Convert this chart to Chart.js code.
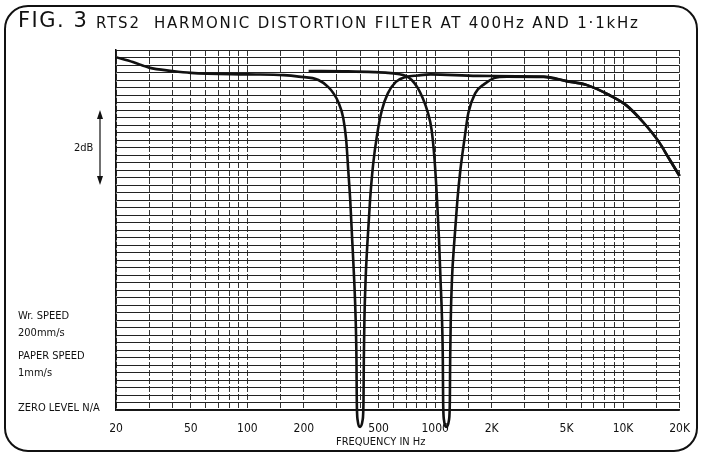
<!DOCTYPE html>
<html>
<head>
<meta charset="utf-8">
<script src="https://cdn.jsdelivr.net/npm/chart.js@4/dist/chart.umd.min.js"></script>
<style>
  body { margin: 0; background: #fff; }
  #wrap { position: relative; width: 702px; height: 455px; overflow: hidden; background: #fff; }
  #chart { position: absolute; left: 0; top: 0; }
  .frame { position: absolute; left: 4px; top: 5px; width: 690px; height: 443px; border: 2.5px solid #111; border-radius: 24px; }
  .txt { position: absolute; color: #111; white-space: nowrap; font-family: 'DejaVu Sans Condensed', 'Liberation Sans Narrow', sans-serif; }
  .fig { left: 18px; top: 8px; font-family: 'DejaVu Sans', sans-serif; font-size: 21px; letter-spacing: 1.5px; }
  .sub { left: 96px; top: 14px; font-family: 'DejaVu Sans', sans-serif; font-size: 15px; letter-spacing: 1.8px; }
  .note { font-size: 11px; left: 18px; }
</style>
</head>
<body>
<div id="wrap">
  <canvas id="chart" width="702" height="455"></canvas>
  <div class="frame"></div>
  <div class="txt fig">FIG. 3</div>
  <div class="txt sub">RTS2 &nbsp;HARMONIC DISTORTION FILTER AT 400Hz AND 1·1kHz</div>
  <div class="txt note" style="left:74px; top:141px;">2dB</div>
  <div class="txt note" style="top:309px;">Wr. SPEED</div>
  <div class="txt note" style="top:326px;">200mm/s</div>
  <div class="txt note" style="top:349px;">PAPER SPEED</div>
  <div class="txt note" style="top:366px;">1mm/s</div>
  <div class="txt note" style="top:401px;">ZERO LEVEL N/A</div>
  <div class="txt" style="left:336px; top:435px; font-size:11px;">FREQUENCY IN Hz</div>
</div>
<script>
// Filtro 400 Hz (trazo que empieza en 20 Hz)
const freqA = [20, 24.6, 30, 40, 50, 100, 156, 188, 239, 270, 287, 305, 324, 336, 344.5, 353, 361.7, 370.6, 377.4, 381.1,
    382.5, 386.6, 398.6, 410.9, 415.5, 417, 420, 426.2, 436.7, 450.2, 467, 490.3, 520.7, 560.5, 617.6, 697.4, 807.1, 945.6,
    1675, 3786, 5000, 6380, 8440, 10380, 12770, 15520, 17500, 20000];
const levelA = [-0.19, -0.32, -0.47, -0.56, -0.61, -0.65, -0.67, -0.71, -0.8, -0.99, -1.15, -1.39, -1.81, -2.4, -3.2, -4.0, -5.07, -6.13, -7.2, -8.27,
    -9.33, -9.87, -10.05, -9.87, -9.33, -8.27, -7.2, -6.13, -5.07, -4.0, -3.07, -2.27, -1.6, -1.15, -0.85, -0.72, -0.68, -0.65,
    -0.69, -0.71, -0.83, -0.93, -1.2, -1.47, -1.92, -2.45, -2.88, -3.36];

// Filtro 1.1 kHz (trazo que empieza cerca de 200 Hz)
const freqB = [212, 344, 474, 560.5, 632.6, 697.4, 750.3, 807.1, 857.9, 911.6, 957.1, 992.6, 1023.3, 1048.5, 1067.8, 1087.6, 1098.2, 1102.2, 1114.2, 1148.6,
    1184.1, 1197.2, 1201.6, 1210.2, 1228.1, 1265.9, 1313, 1361.9, 1429.8, 1501.3, 1635, 1823.7, 2058.9, 2412.7, 3786,
    5000, 6380, 8440, 10380, 12770, 15520, 17500, 20000];
const levelB = [-0.56, -0.57, -0.59, -0.61, -0.64, -0.69, -0.8, -1.01, -1.28, -1.65, -2.13, -2.93, -4.0, -5.07, -6.13, -7.2, -8.27, -9.33, -9.87, -10.05,
    -9.87, -9.33, -8.27, -7.2, -6.13, -5.07, -4.0, -3.2, -2.4, -1.68, -1.15, -0.91, -0.75, -0.71, -0.72,
    -0.83, -0.93, -1.2, -1.47, -1.92, -2.45, -2.88, -3.36];

// Etiquetas del eje de frecuencia
const tickValues = [20, 50, 100, 200, 500, 1000, 2000, 5000, 10000, 20000];
const tickText = ['20', '50', '100', '200', '500', '1000', '2K', '5K', '10K', '20K'];

// Escala vertical del papel (dB, 0.2 dB por linea)
const levelMin = -9.6;
const levelMax = 0;
const levelStep = 0.2;

const ink = '#111';

function toPoints(xs, ys) {
    return xs.map((x, i) => ({ x: x, y: ys[i] }));
}

// Flecha doble de 2 dB a la izquierda
const arrowPlugin = {
    id: 'arrow2db',
    afterDraw(chart) {
        const ctx = chart.ctx;
        const y = chart.scales.y;
        const top = y.getPixelForValue(-1.6);
        const bottom = y.getPixelForValue(-3.6);
        const x = 100;
        ctx.save();
        ctx.strokeStyle = ink;
        ctx.fillStyle = ink;
        ctx.lineWidth = 1.2;
        ctx.beginPath();
        ctx.moveTo(x, top + 4);
        ctx.lineTo(x, bottom - 4);
        ctx.stroke();
        ctx.beginPath();
        ctx.moveTo(x, top);
        ctx.lineTo(x - 3, top + 9);
        ctx.lineTo(x + 3, top + 9);
        ctx.closePath();
        ctx.fill();
        ctx.beginPath();
        ctx.moveTo(x, bottom);
        ctx.lineTo(x - 3, bottom - 9);
        ctx.lineTo(x + 3, bottom - 9);
        ctx.closePath();
        ctx.fill();
        ctx.restore();
    }
};

const lineStyle = {
    borderColor: ink,
    borderWidth: 2.6,
    pointRadius: 0,
    fill: false,
    clip: false,
    cubicInterpolationMode: 'monotone'
};

new Chart(document.getElementById('chart'), {
    type: 'line',
    data: {
        datasets: [
            Object.assign({ label: '400 Hz', data: toPoints(freqA, levelA) }, lineStyle),
            Object.assign({ label: '1.1 kHz', data: toPoints(freqB, levelB) }, lineStyle)
        ]
    },
    options: {
        responsive: false,
        animation: false,
        layout: { padding: { left: 116, right: 18, top: 50, bottom: 0 } },
        elements: { line: { capBezierPoints: false } },
        plugins: {
            legend: { display: false },
            tooltip: { enabled: false }
        },
        scales: {
            x: {
                type: 'logarithmic',
                min: 20,
                max: 20000,
                afterFit(scale) { scale.height = 45; },
                grid: { color: '#333', lineWidth: 1, drawTicks: false },
                border: { color: ink, width: 1.5, dash: [6, 2] },
                ticks: {
                    autoSkip: false,
                    maxRotation: 0,
                    padding: 12,
                    color: ink,
                    font: { family: "'DejaVu Sans Condensed', 'Liberation Sans Narrow', sans-serif", size: 12 },
                    callback: (value) => {
                        const i = tickValues.indexOf(Math.round(value));
                        return i >= 0 ? tickText[i] : '';
                    }
                }
            },
            y: {
                type: 'linear',
                min: levelMin,
                max: levelMax,
                afterFit(scale) { scale.width = 0; },
                grid: { color: '#222', lineWidth: 1, drawTicks: false },
                border: { color: ink, width: 1.5 },
                ticks: { display: false, stepSize: levelStep }
            }
        }
    },
    plugins: [arrowPlugin]
});
</script>
</body>
</html>
